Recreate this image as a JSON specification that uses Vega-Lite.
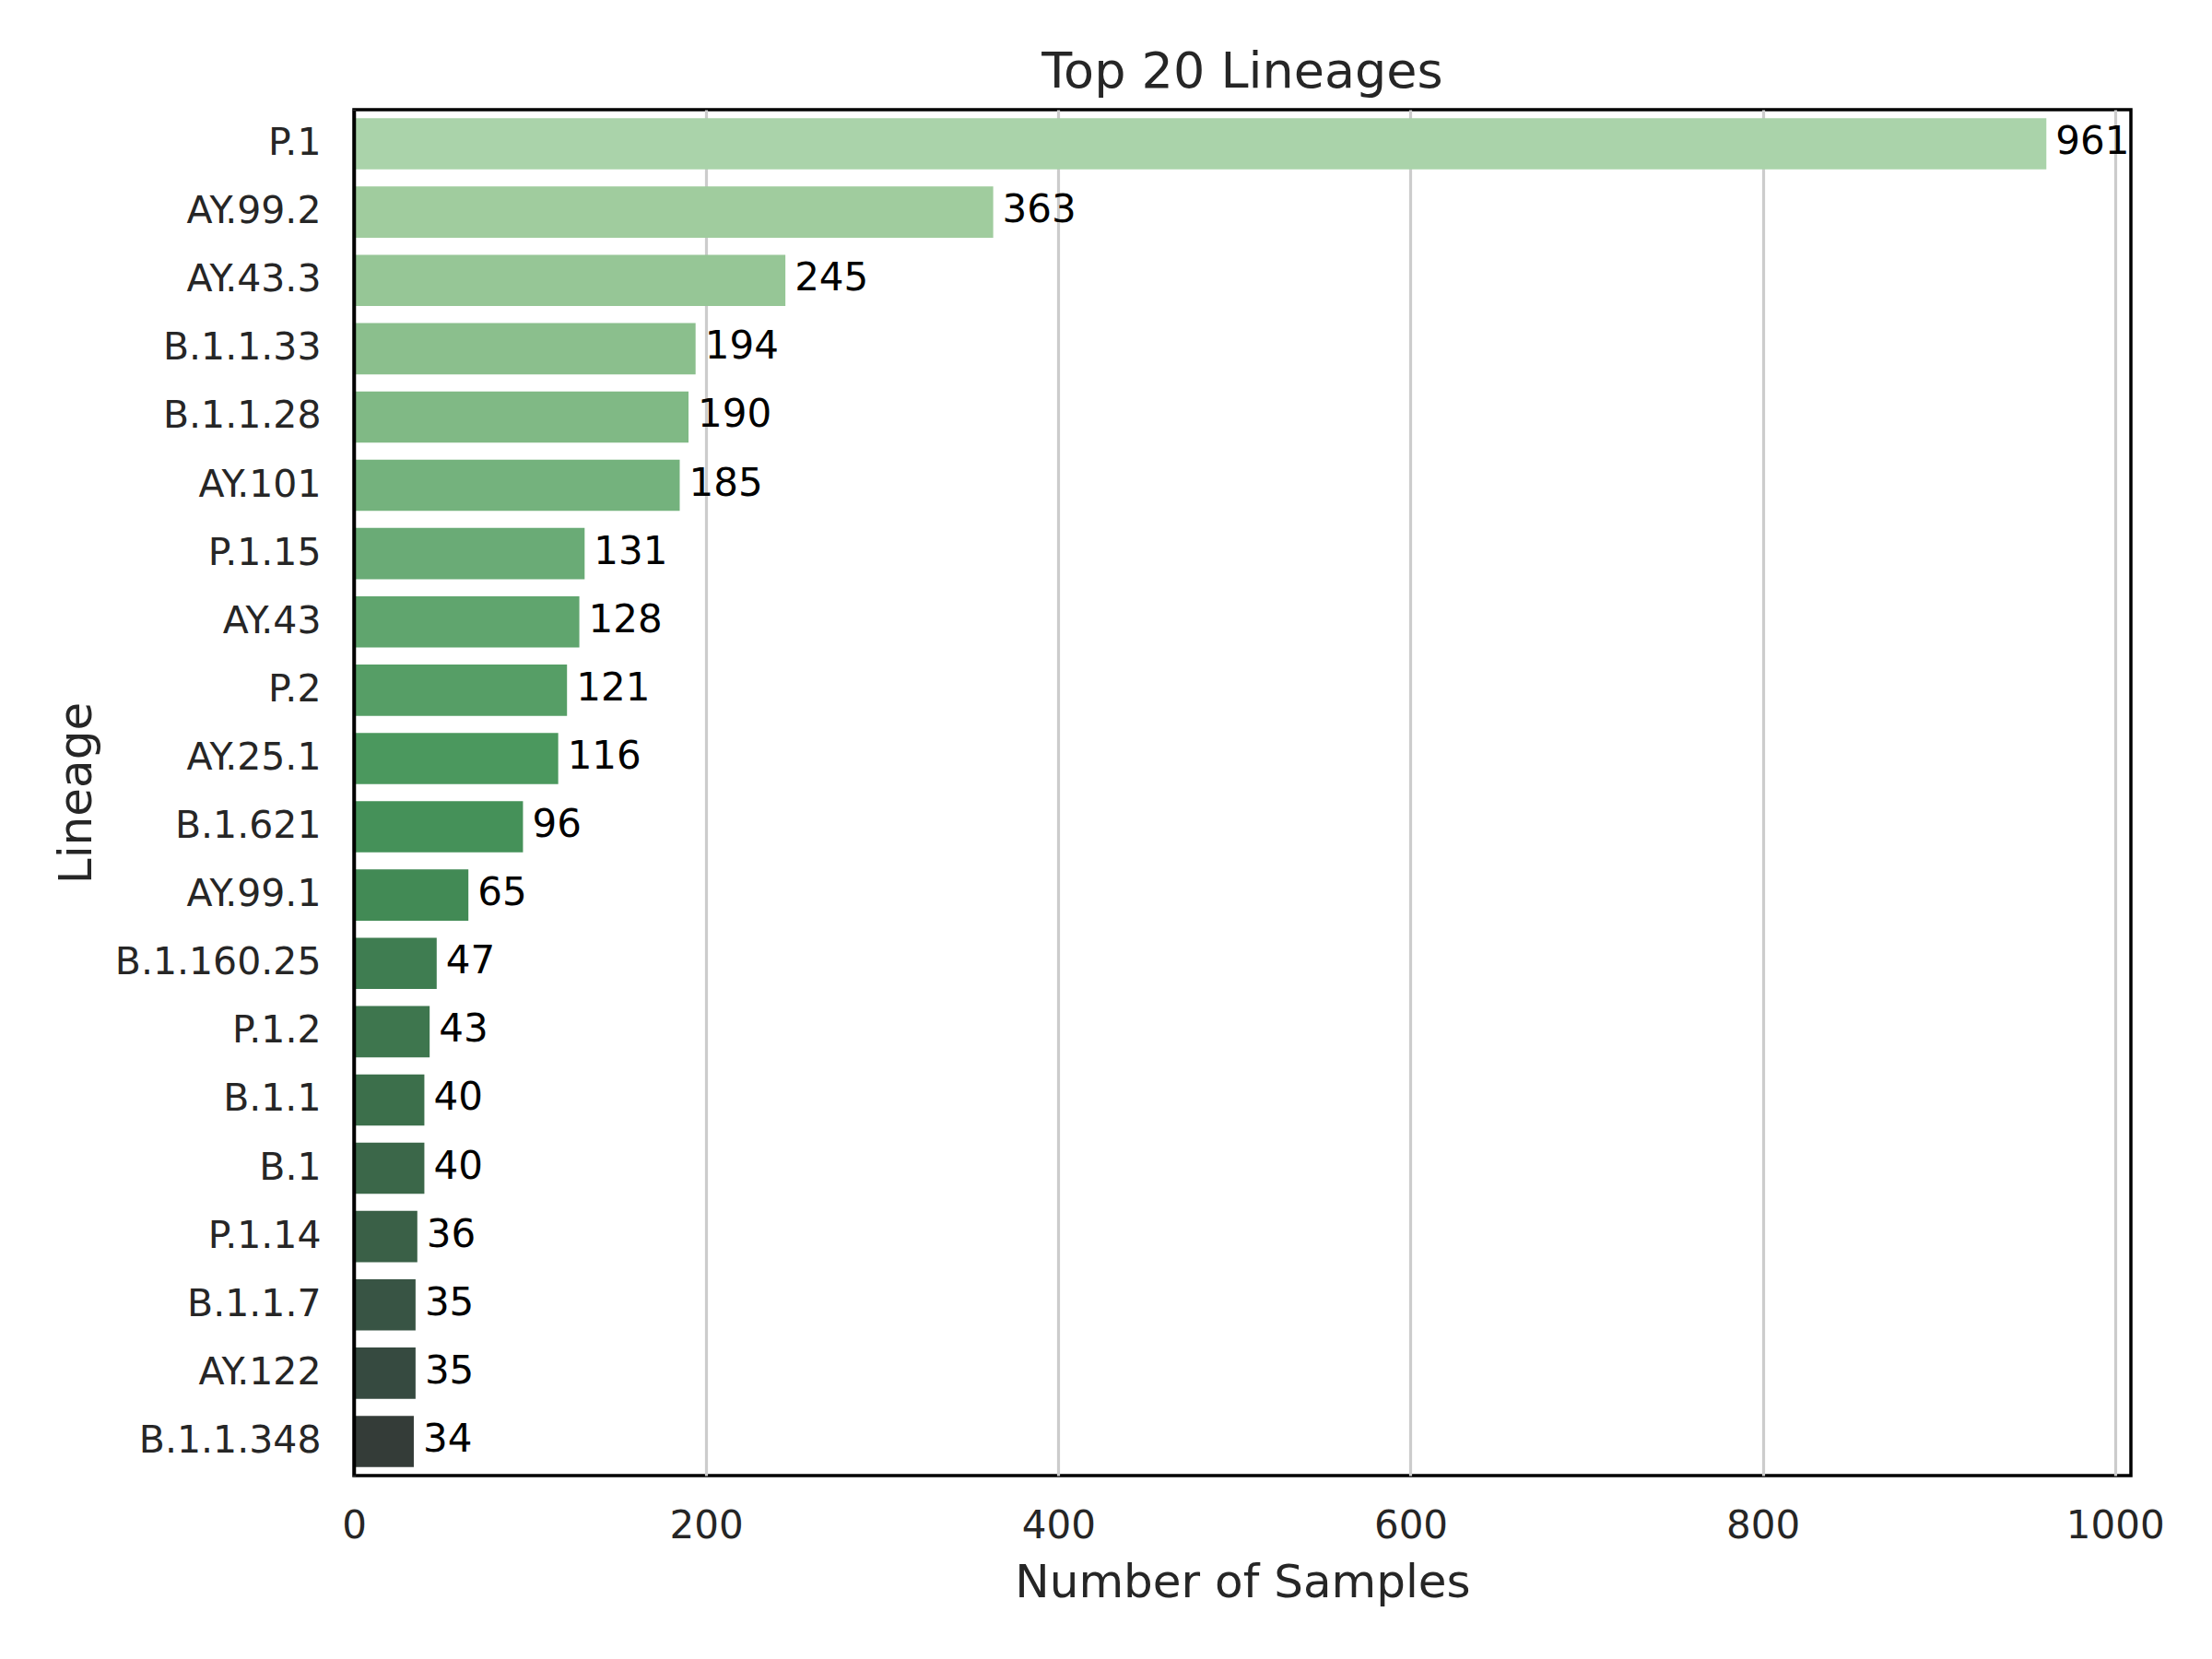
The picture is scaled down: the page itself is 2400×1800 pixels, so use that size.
{
  "$schema": "https://vega.github.io/schema/vega-lite/v6.json",
  "description": "Top 20 Lineages",
  "width": 1928,
  "height": 1482,
  "autosize": {"type": "none"},
  "padding": {"left": 384, "top": 119, "right": 88, "bottom": 199},
  "background": "white",
  "config": {
    "font": "DejaVu Sans",
    "view": {"stroke": "black", "strokeWidth": 3.5}
  },
  "title": {
    "text": "Top 20 Lineages",
    "font": "DejaVu Sans",
    "fontSize": 54,
    "fontWeight": "normal",
    "color": "#262626",
    "offset": 13
  },
  "data": {
    "values": [
      {"lineage": "P.1", "samples": 961},
      {"lineage": "AY.99.2", "samples": 363},
      {"lineage": "AY.43.3", "samples": 245},
      {"lineage": "B.1.1.33", "samples": 194},
      {"lineage": "B.1.1.28", "samples": 190},
      {"lineage": "AY.101", "samples": 185},
      {"lineage": "P.1.15", "samples": 131},
      {"lineage": "AY.43", "samples": 128},
      {"lineage": "P.2", "samples": 121},
      {"lineage": "AY.25.1", "samples": 116},
      {"lineage": "B.1.621", "samples": 96},
      {"lineage": "AY.99.1", "samples": 65},
      {"lineage": "B.1.160.25", "samples": 47},
      {"lineage": "P.1.2", "samples": 43},
      {"lineage": "B.1.1", "samples": 40},
      {"lineage": "B.1", "samples": 40},
      {"lineage": "P.1.14", "samples": 36},
      {"lineage": "B.1.1.7", "samples": 35},
      {"lineage": "AY.122", "samples": 35},
      {"lineage": "B.1.1.348", "samples": 34}
    ]
  },
  "encoding": {
    "y": {
      "field": "lineage",
      "type": "nominal",
      "sort": null,
      "scale": {"paddingInner": 0.25, "paddingOuter": 0.125},
      "axis": {
        "title": "Lineage",
        "titleFont": "DejaVu Sans",
        "titleFontSize": 50,
        "titleFontWeight": "normal",
        "titleColor": "#262626",
        "titlePadding": 76,
        "labelFont": "DejaVu Sans",
        "labelFontSize": 41,
        "labelColor": "#262626",
        "labelPadding": 36,
        "labelLimit": 0,
        "ticks": false,
        "grid": false,
        "domain": true,
        "domainColor": "black",
        "domainWidth": 3.5,
        "zindex": 1
      }
    },
    "x": {
      "field": "samples",
      "type": "quantitative",
      "scale": {"domain": [0, 1009], "nice": false},
      "axis": {
        "title": "Number of Samples",
        "titleFont": "DejaVu Sans",
        "titleFontSize": 50,
        "titleFontWeight": "normal",
        "titleColor": "#262626",
        "titlePadding": 16,
        "values": [0, 200, 400, 600, 800, 1000],
        "format": "d",
        "labelFont": "DejaVu Sans",
        "labelFontSize": 42,
        "labelColor": "#262626",
        "labelPadding": 34,
        "labelFlush": false,
        "labelOverlap": false,
        "ticks": false,
        "domain": false,
        "grid": true,
        "gridColor": "#cccccc",
        "gridWidth": 3.2
      }
    }
  },
  "layer": [
    {
      "mark": {"type": "bar"},
      "encoding": {
        "color": {
          "field": "lineage",
          "type": "nominal",
          "legend": null,
          "scale": {
            "domain": ["P.1", "AY.99.2", "AY.43.3", "B.1.1.33", "B.1.1.28", "AY.101", "P.1.15", "AY.43", "P.2", "AY.25.1", "B.1.621", "AY.99.1", "B.1.160.25", "P.1.2", "B.1.1", "B.1", "P.1.14", "B.1.1.7", "AY.122", "B.1.1.348"],
            "range": ["#aad3aa", "#a0cc9e", "#96c696", "#8bbf8d", "#80b985", "#74b27d", "#6aab76", "#60a56e", "#569e66", "#4b985e", "#459159", "#428a55", "#3f7d51", "#3e764e", "#3c6f4b", "#3b6749", "#3a6047", "#385444", "#364a40", "#343c38"]
          }
        }
      }
    },
    {
      "mark": {
        "type": "text",
        "align": "left",
        "baseline": "middle",
        "dx": 10,
        "dy": -2,
        "font": "DejaVu Sans",
        "fontSize": 42,
        "color": "black"
      },
      "encoding": {
        "text": {"field": "samples", "type": "quantitative", "format": "d"}
      }
    }
  ]
}
